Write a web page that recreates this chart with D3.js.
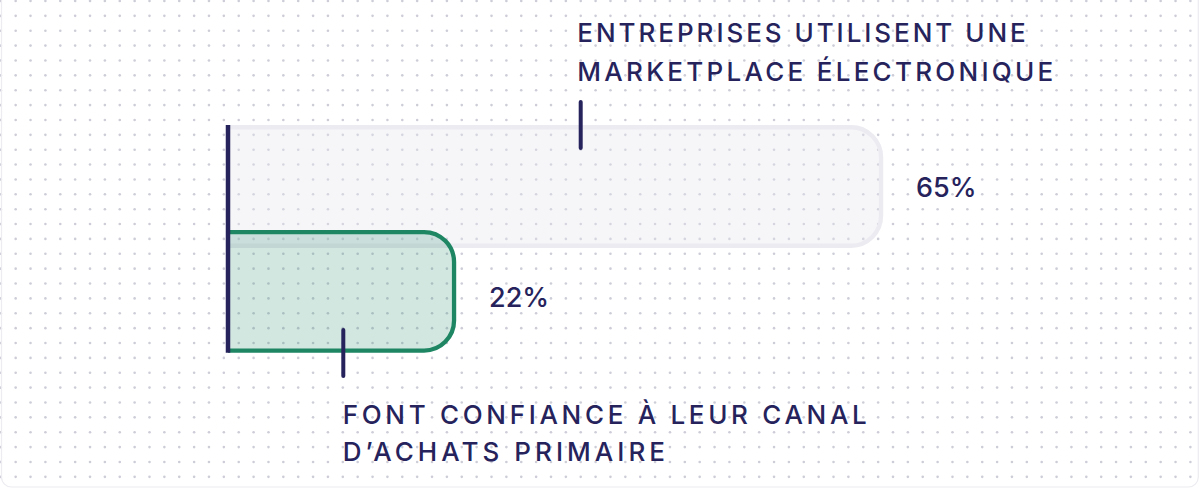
<!DOCTYPE html>
<html>
<head>
<meta charset="utf-8">
<script src="https://cdn.jsdelivr.net/npm/d3@7/dist/d3.min.js"></script>
<style>
  html, body { margin: 0; padding: 0; background: #ffffff; }
  svg { display: block; }
</style>
</head>
<body>
<svg id="chart" width="1200" height="488"></svg>
<script>
// ---- data ----
const categories = ["marketplace", "confiance"];
const values = [65, 22];
const valueLabels = ["65%", "22%"];
const labelLines = [
  ["ENTREPRISES UTILISENT UNE", "MARKETPLACE ÉLECTRONIQUE"],
  ["FONT CONFIANCE À LEUR CANAL", "D’ACHATS PRIMAIRE"]
];

// ---- layout ----
const W = 1200, H = 488;
const navy = "#26235c";
const green = "#1f8663";
const svg = d3.select("#chart");

// dotted background
const dotStep = 14.87;
const dotsX = d3.range(0.8, W, dotStep);
const dotsY = d3.range(1, H, dotStep);
const dotData = [];
dotsY.forEach(y => dotsX.forEach(x => dotData.push([x, y])));
svg.append("g").selectAll("circle").data(dotData).join("circle")
  .attr("cx", d => d[0]).attr("cy", d => d[1]).attr("r", 1.3)
  .attr("fill", "#cdcdd8");

// card border
svg.append("rect").attr("x", 1.5).attr("y", -10).attr("width", 1196.8).attr("height", 497)
  .attr("rx", 10).attr("fill", "none").attr("stroke", "#ececf1").attr("stroke-width", 1.2);

const x = d3.scaleLinear().domain([0, 100]).range([235.6, 1228.6]);
const y = d3.scalePoint().domain(categories).range([186.5, 291.3]);
const barH = 118.5;
const axisX = 228;
const r = 30;

function barPath(x0, x1, yc) {
  const t = yc - barH / 2, b = yc + barH / 2;
  const p = d3.path();
  p.moveTo(x0, t);
  p.lineTo(x1 - r, t);
  p.arcTo(x1, t, x1, t + r, r);
  p.lineTo(x1, b - r);
  p.arcTo(x1, b, x1 - r, b, r);
  p.lineTo(x0, b);
  return p.toString();
}

const styles = [
  { fill: "rgba(228,228,238,0.35)", stroke: "#ebebf1" },
  { fill: "rgba(31,134,99,0.2)", stroke: green }
];

const bars = svg.append("g");
categories.forEach((c, i) => {
  bars.append("path")
    .attr("d", barPath(axisX, x(values[i]), y(c)))
    .attr("fill", styles[i].fill)
    .attr("stroke", styles[i].stroke)
    .attr("stroke-width", 4.3);
});

// axis line
svg.append("line")
  .attr("x1", axisX).attr("x2", axisX)
  .attr("y1", y(categories[0]) - barH / 2 - 2.2)
  .attr("y2", y(categories[1]) + barH / 2 + 2.2)
  .attr("stroke", navy).attr("stroke-width", 4.5);

// value labels
const labelDy = [10.8, 16];
categories.forEach((c, i) => {
  svg.append("text")
    .attr("x", x(values[i]) + 35)
    .attr("y", y(c) + labelDy[i])
    .attr("font-family", "Inter, 'Noto Sans', sans-serif")
    .attr("font-size", 27)
    .attr("font-weight", 500)
    .attr("fill", navy)
    .text(valueLabels[i]);
});

// category labels with ticks
const labelPos = [
  { x: 577.3, base: [42.3, 81], widths: [448.4, 476], tick: [102, 148], tickX: 580.7 },
  { x: 342.7, base: [424.3, 460.7], widths: [524, 322.3], tick: [330, 376], tickX: 343.3 }
];
categories.forEach((c, i) => {
  const lp = labelPos[i];
  svg.append("line")
    .attr("x1", lp.tickX).attr("x2", lp.tickX)
    .attr("y1", lp.tick[0]).attr("y2", lp.tick[1])
    .attr("stroke", navy).attr("stroke-width", 4).attr("stroke-linecap", "round");
  labelLines[i].forEach((line, j) => {
    svg.append("text")
      .attr("x", lp.x).attr("y", lp.base[j])
      .attr("font-family", "Inter, 'Noto Sans', sans-serif")
      .attr("font-size", 26)
      .attr("font-weight", 500)
      .attr("textLength", lp.widths[j])
      .attr("lengthAdjust", "spacing")
      .attr("fill", navy)
      .text(line);
  });
});
</script>
</body>
</html>
